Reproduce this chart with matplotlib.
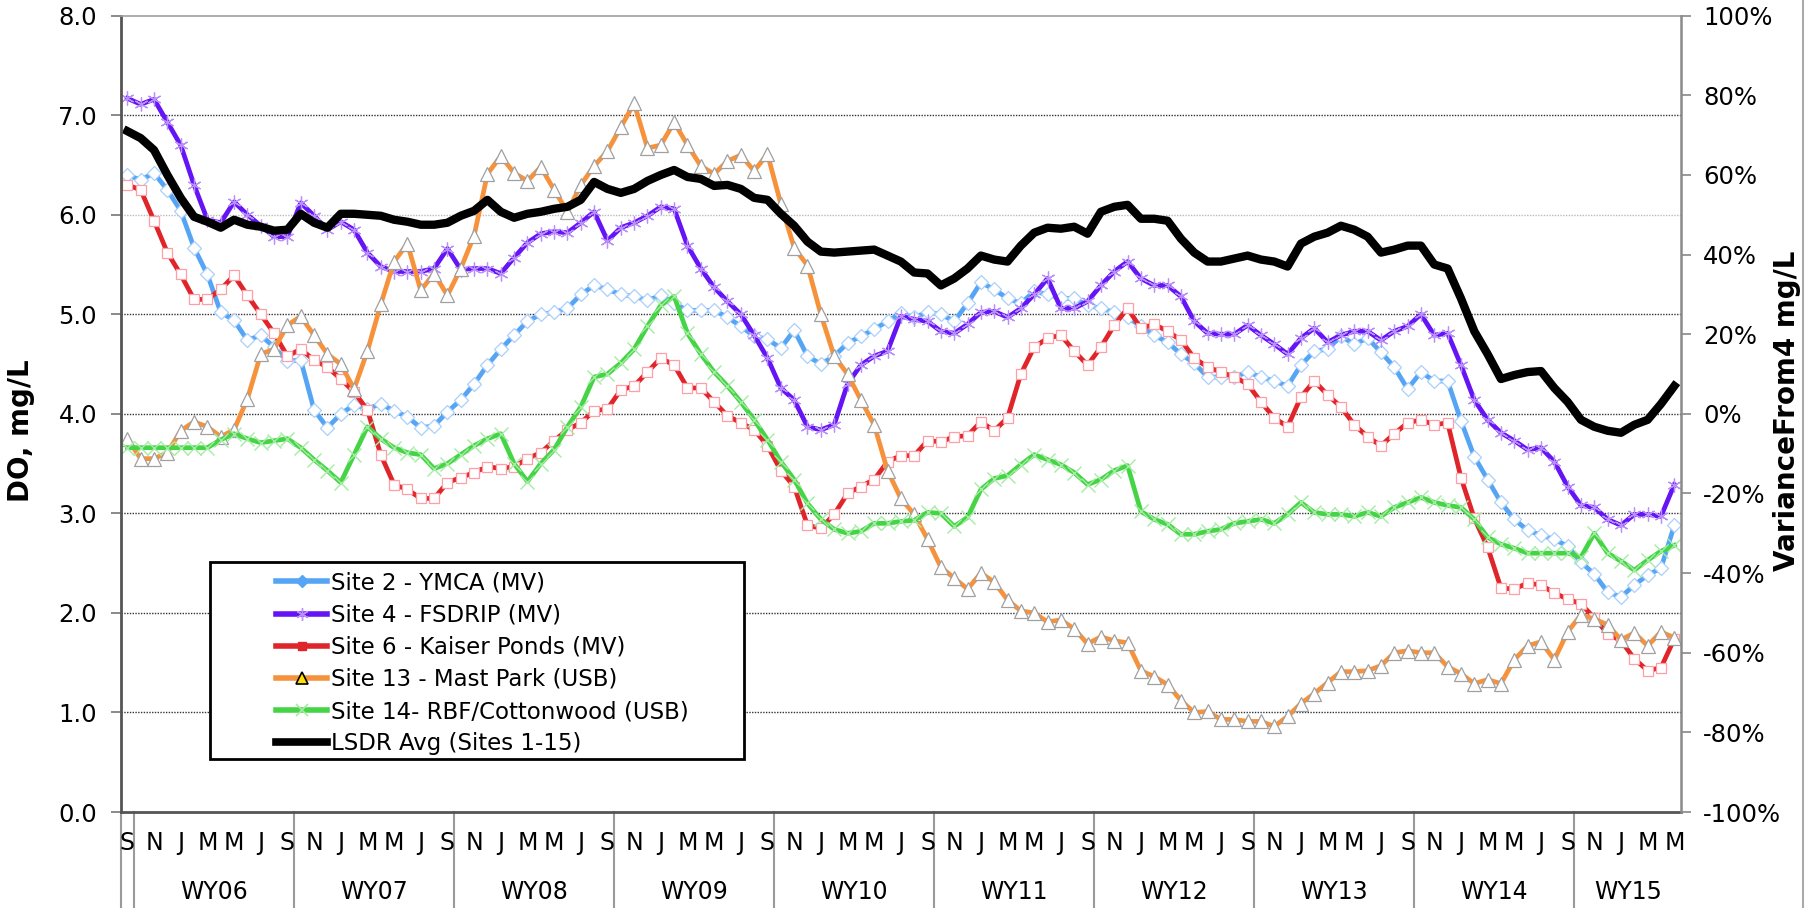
import matplotlib
matplotlib.use("Agg")
import matplotlib.pyplot as plt
from matplotlib.lines import Line2D
from matplotlib.patches import Rectangle
import numpy as np

# monthly values, Sep 2005 .. May 2015 (117 months)
site2 = [6.40, 6.35, 6.42, 6.25, 6.04, 5.67, 5.40, 5.02, 4.94, 4.74, 4.79, 4.67, 4.53, 4.54, 4.04, 3.86, 4.00, 4.09, 4.05, 4.10,
         4.03, 3.97, 3.86, 3.88, 4.02, 4.14, 4.30, 4.49, 4.65, 4.79, 4.93, 5.00, 5.02, 5.06, 5.20, 5.29, 5.25, 5.20, 5.18, 5.14,
         5.19, 5.11, 5.04, 5.04, 5.04, 4.97, 4.88, 4.78, 4.75, 4.66, 4.84, 4.58, 4.50, 4.58, 4.71, 4.78, 4.85, 4.93, 5.01, 4.97,
         5.02, 5.00, 4.93, 5.11, 5.32, 5.25, 5.16, 5.11, 5.23, 5.20, 5.16, 5.16, 5.09, 5.06, 5.02, 4.97, 4.88, 4.79, 4.72, 4.60,
         4.51, 4.37, 4.37, 4.37, 4.42, 4.37, 4.33, 4.28, 4.49, 4.63, 4.65, 4.78, 4.70, 4.76, 4.62, 4.47, 4.25, 4.42, 4.33,
         4.33, 3.93, 3.57, 3.34, 3.11, 2.94, 2.83, 2.78, 2.74, 2.67, 2.51, 2.39, 2.21, 2.16, 2.28, 2.38, 2.45, 2.88]
site4 = [7.17, 7.11, 7.16, 6.93, 6.70, 6.30, 5.95, 5.92, 6.13, 6.00, 5.89, 5.78, 5.78, 6.12, 5.99, 5.85, 5.93, 5.85, 5.62, 5.48,
         5.43, 5.43, 5.43, 5.46, 5.66, 5.45, 5.46, 5.46, 5.41, 5.57, 5.72, 5.81, 5.83, 5.82, 5.92, 6.03, 5.74, 5.87, 5.92, 5.99,
         6.08, 6.06, 5.69, 5.46, 5.27, 5.13, 5.00, 4.79, 4.56, 4.26, 4.14, 3.87, 3.84, 3.89, 4.30, 4.49, 4.58, 4.63, 4.98, 4.95,
         4.93, 4.83, 4.81, 4.90, 5.02, 5.03, 4.97, 5.06, 5.20, 5.36, 5.06, 5.06, 5.13, 5.29, 5.43, 5.53, 5.36, 5.29, 5.29, 5.18,
         4.93, 4.81, 4.80, 4.80, 4.89, 4.79, 4.70, 4.60, 4.76, 4.86, 4.72, 4.79, 4.83, 4.83, 4.74, 4.83, 4.88, 5.00, 4.79,
         4.81, 4.49, 4.14, 3.94, 3.81, 3.73, 3.64, 3.66, 3.52, 3.27, 3.08, 3.06, 2.94, 2.88, 2.99, 2.99, 2.97, 3.29]
site6 = [6.30, 6.25, 5.94, 5.62, 5.40, 5.15, 5.15, 5.25, 5.39, 5.19, 5.00, 4.81, 4.58, 4.65, 4.54, 4.47, 4.35, 4.22, 4.04, 3.59,
         3.29, 3.24, 3.15, 3.15, 3.31, 3.36, 3.41, 3.47, 3.45, 3.47, 3.55, 3.61, 3.73, 3.84, 3.91, 4.03, 4.05, 4.24, 4.28, 4.42,
         4.56, 4.49, 4.26, 4.26, 4.12, 3.98, 3.91, 3.84, 3.68, 3.43, 3.27, 2.88, 2.85, 2.99, 3.20, 3.27, 3.34, 3.52, 3.58, 3.58,
         3.73, 3.72, 3.77, 3.78, 3.92, 3.83, 3.96, 4.40, 4.67, 4.76, 4.79, 4.63, 4.49, 4.67, 4.89, 5.06, 4.86, 4.90, 4.83, 4.74,
         4.56, 4.47, 4.42, 4.37, 4.30, 4.12, 3.96, 3.87, 4.17, 4.33, 4.19, 4.07, 3.89, 3.77, 3.68, 3.80, 3.91, 3.94, 3.89,
         3.91, 3.36, 2.95, 2.66, 2.25, 2.24, 2.30, 2.28, 2.20, 2.14, 2.09, 1.95, 1.79, 1.72, 1.54, 1.42, 1.45, 1.74]
site13 = [3.75, 3.55, 3.55, 3.61, 3.83, 3.92, 3.87, 3.77, 3.84, 4.15, 4.60, 4.65, 4.89, 4.98, 4.79, 4.60, 4.50, 4.25, 4.63, 5.10,
          5.53, 5.71, 5.24, 5.41, 5.19, 5.46, 5.79, 6.41, 6.59, 6.42, 6.34, 6.48, 6.25, 6.03, 6.30, 6.49, 6.64, 6.88, 7.12, 6.67,
          6.70, 6.93, 6.70, 6.49, 6.41, 6.54, 6.60, 6.44, 6.61, 6.11, 5.67, 5.49, 5.00, 4.58, 4.40, 4.14, 3.89, 3.43, 3.15, 2.99,
          2.74, 2.46, 2.35, 2.24, 2.40, 2.31, 2.13, 2.02, 2.00, 1.91, 1.93, 1.84, 1.69, 1.76, 1.72, 1.70, 1.42, 1.36, 1.28, 1.12,
          1.00, 1.01, 0.93, 0.93, 0.91, 0.91, 0.86, 0.96, 1.09, 1.19, 1.30, 1.41, 1.41, 1.42, 1.47, 1.60, 1.62, 1.60, 1.60,
          1.46, 1.39, 1.29, 1.33, 1.29, 1.53, 1.67, 1.71, 1.53, 1.81, 1.98, 1.94, 1.88, 1.73, 1.80, 1.67, 1.81, 1.75]
site14 = [3.66, 3.66, 3.66, 3.66, 3.66, 3.66, 3.66, 3.74, 3.80, 3.75, 3.71, 3.73, 3.75, 3.66, 3.54, 3.43, 3.31, 3.59, 3.87, 3.75,
          3.66, 3.61, 3.59, 3.45, 3.50, 3.59, 3.68, 3.75, 3.80, 3.50, 3.32, 3.50, 3.64, 3.87, 4.07, 4.37, 4.40, 4.51, 4.65, 4.88,
          5.09, 5.18, 4.81, 4.60, 4.42, 4.28, 4.12, 3.94, 3.74, 3.52, 3.34, 3.10, 2.94, 2.84, 2.80, 2.82, 2.90, 2.90, 2.92, 2.93,
          3.01, 3.00, 2.87, 2.96, 3.24, 3.35, 3.38, 3.49, 3.59, 3.54, 3.49, 3.41, 3.29, 3.34, 3.43, 3.48, 3.02, 2.94, 2.89, 2.79,
          2.79, 2.82, 2.84, 2.90, 2.92, 2.94, 2.90, 2.99, 3.11, 3.01, 2.99, 2.99, 2.97, 3.01, 2.97, 3.06, 3.11, 3.16, 3.11,
          3.08, 3.06, 2.94, 2.76, 2.69, 2.65, 2.60, 2.60, 2.60, 2.60, 2.56, 2.80, 2.60, 2.52, 2.43, 2.53, 2.62, 2.68]
lsdr_avg = [6.84, 6.77, 6.65, 6.40, 6.17, 5.98, 5.93, 5.87, 5.95, 5.90, 5.88, 5.84, 5.85, 6.01, 5.92, 5.87, 6.01, 6.01, 6.00, 5.99,
            5.95, 5.93, 5.90, 5.90, 5.92, 5.99, 6.04, 6.15, 6.03, 5.97, 6.01, 6.03, 6.06, 6.08, 6.15, 6.33, 6.26, 6.22, 6.26, 6.34,
            6.40, 6.45, 6.38, 6.36, 6.29, 6.30, 6.26, 6.17, 6.15, 6.01, 5.89, 5.73, 5.63, 5.62, 5.63, 5.64, 5.65, 5.59, 5.53, 5.42,
            5.41, 5.29, 5.36, 5.46, 5.59, 5.55, 5.53, 5.69, 5.82, 5.87, 5.86, 5.88, 5.81, 6.03, 6.08, 6.10, 5.96, 5.96, 5.94, 5.76,
            5.62, 5.53, 5.53, 5.56, 5.59, 5.55, 5.53, 5.48, 5.71, 5.78, 5.82, 5.89, 5.85, 5.78, 5.62, 5.65, 5.69, 5.69, 5.50,
            5.46, 5.16, 4.83, 4.60, 4.35, 4.39, 4.42, 4.43, 4.26, 4.12, 3.94, 3.87, 3.83, 3.81, 3.89, 3.94, 4.10, 4.28]

# every second month gets a letter, starting with Sep 2005
month_labels = ["S"] + ["N", "J", "M", "M", "J", "S"] * 9 + ["N", "J", "M", "M"]
water_years = ["WY06", "WY07", "WY08", "WY09", "WY10", "WY11", "WY12", "WY13", "WY14", "WY15"]

series_names = ["Site 2 - YMCA (MV)", "Site 4 - FSDRIP (MV)", "Site 6 - Kaiser Ponds (MV)",
                "Site 13 - Mast Park (USB)", "Site 14- RBF/Cottonwood (USB)", "LSDR Avg (Sites 1-15)"]

W, H = 1814, 908
fig = plt.figure(figsize=(W / 100, H / 100), dpi=100)
ax = fig.add_axes([120.7 / W, 1 - 812 / H, (1681 - 120.7) / W, (812 - 15.7) / H])

x = np.arange(len(site2))

# gridlines (6.0 is drawn lighter in the original)
for v in [1, 2, 3, 4, 5, 7]:
    ax.axhline(v, color="#333333", lw=1.0, ls=(0, (1, 1)), zorder=0.5)
ax.axhline(6, color="#bbbbbb", lw=1.0, ls=(0, (1, 1)), zorder=0.5)

# data series
ax.plot(x, site2, color="#56a5f5", lw=3.4, marker="D", ms=7.5, mfc="white", mec="#a9d0fb", mew=0.9)
ax.plot(x, site4, color="#6414f5", lw=3.4, marker=(6, 2, 0), ms=10, mfc="white", mec="#b98ffc", mew=0.9)
ax.plot(x, site6, color="#e0252a", lw=3.4, marker="s", ms=7.5, mfc="white", mec="#ff9ea6", mew=0.9)
ax.plot(x, site13, color="#f7923c", lw=3.4, marker="^", ms=9.5, mfc="white", mec="#a0a0a0", mew=0.9)
ax.plot(x, site14, color="#45d445", lw=3.4, marker="x", ms=9.5, mec="#a4eba4", mew=1.0)
ax.plot(x, lsdr_avg, color="black", lw=6, solid_joinstyle="round")

ax.set_xlim(-0.5, len(x) - 0.5)
ax.set_ylim(0, 8)
ax.set_yticks(range(0, 9))
ax.set_yticklabels([f"{v:.1f}" for v in range(0, 9)])
ax.set_xticks([])
ax.tick_params(axis="y", labelsize=17.5, length=7, width=1.2, color="#777777", pad=10)

ax.spines["left"].set_color("#555555")
ax.spines["left"].set_linewidth(2.0)
ax.spines["bottom"].set_color("#555555")
ax.spines["bottom"].set_linewidth(2.0)
ax.spines["top"].set_color("#a0a0a0")
ax.spines["top"].set_linewidth(1.2)
ax.spines["right"].set_visible(False)

# right axis: variance from 4 mg/L
ax2 = ax.twinx()
ax2.set_ylim(-1, 1)
pct = np.arange(-1.0, 1.01, 0.2)
ax2.set_yticks(pct)
ax2.set_yticklabels([f"{int(round(p * 100))}%" for p in pct])
ax2.tick_params(axis="y", labelsize=17.5, length=7, width=1.2, color="#888888", pad=9)
ax2.set_xticks([])
for s in ["left", "top", "bottom"]:
    ax2.spines[s].set_visible(False)
ax2.spines["right"].set_color("#8a8a8a")
ax2.spines["right"].set_linewidth(1.8)

# two-level category axis below the plot
trans = ax.get_xaxis_transform()
for k, lbl in enumerate(month_labels):
    ax.text(2 * k, -0.039, lbl, transform=trans, ha="center", va="center", fontsize=17)
for k, wy in enumerate(water_years):
    start = 1 + 12 * k
    end = min(12 + 12 * k, len(x) - 1)
    ax.text((start + end) / 2, -0.1005, wy, transform=trans, ha="center", va="center", fontsize=17)
dividers = [-0.5] + [0.5 + 12 * k for k in range(len(water_years))]
for d in dividers:
    ax.plot([d, d], [0, -0.125], transform=trans, color="#9a9a9a", lw=1.5, clip_on=False)

# axis titles
fig.text(21 / W, 1 - 431 / H, "DO, mg/L", rotation=90, fontweight="bold", fontsize=20,
         ha="center", va="center")
fig.text(1787 / W, 1 - 411 / H, "VarianceFrom4 mg/L", rotation=90, fontweight="bold", fontsize=20,
         ha="center", va="center")

# thin border at the far right of the chart area
fig.add_artist(Line2D([1803 / W, 1803 / W], [0, 1], color="#aaaaaa", lw=1.5))

# legend box
fig.add_artist(Rectangle((210 / W, 1 - 759 / H), 534 / W, 197 / H, transform=fig.transFigure,
                         facecolor="white", edgecolor="black", lw=2.0, zorder=3))
handles = [
    Line2D([], [], color="#56a5f5", lw=4, marker="D", ms=6, mfc="#56a5f5", mec="#56a5f5"),
    Line2D([], [], color="#6414f5", lw=4, marker=(6, 2, 0), ms=9, mec="#b98ffc", mew=1.0),
    Line2D([], [], color="#e0252a", lw=4, marker="s", ms=6, mfc="#e0252a", mec="#e0252a"),
    Line2D([], [], color="#f7923c", lw=4, marker="^", ms=8, mfc="#ffe000", mec="black", mew=1.2),
    Line2D([], [], color="#45d445", lw=4, marker="x", ms=9, mec="#a4eba4", mew=1.2),
    Line2D([], [], color="black", lw=5.5),
]
leg = fig.legend(handles, series_names, loc="upper left", bbox_to_anchor=(265 / W, 1 - 560 / H),
                 frameon=False, borderpad=0, fontsize=16.5, handlelength=2.2, handletextpad=0.2,
                 labelspacing=0.4)
leg.set_zorder(4)

fig.savefig("out.png", dpi=100)
